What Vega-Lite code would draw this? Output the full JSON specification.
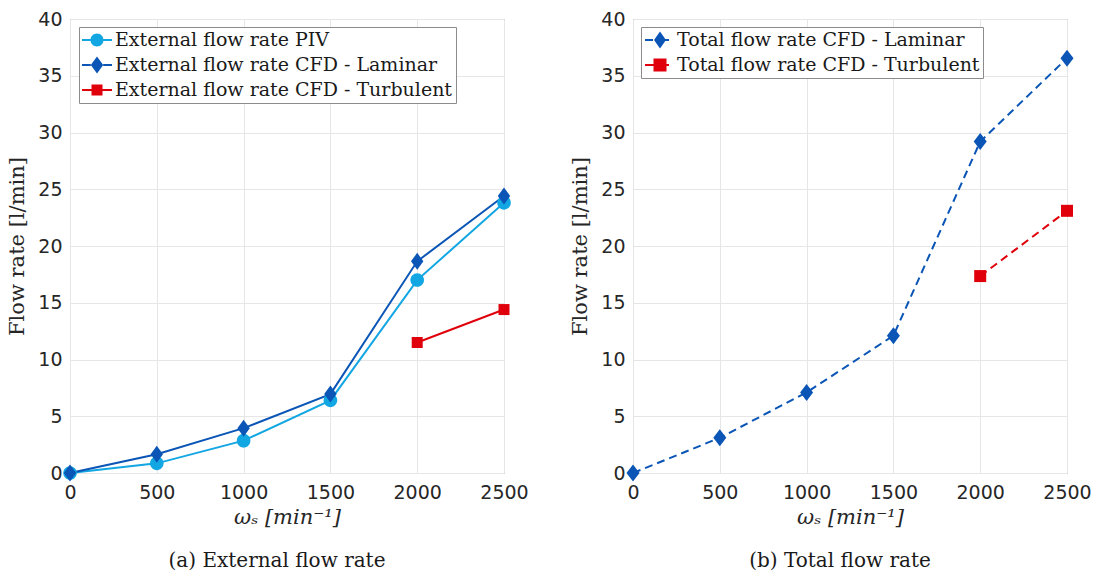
{
  "$schema": "https://vega.github.io/schema/vega-lite/v6.json",
  "background": "white",
  "padding": {"left": 6, "top": 9, "right": 5, "bottom": 0},
  "spacing": 40,
  "config": {
    "view": {"stroke": "#8a8a8a", "strokeWidth": 1},
    "axis": {
      "labelFont": "DejaVu Sans", "labelFontSize": 19, "labelColor": "#262626", "labelFlush": false,
      "titleFont": "DejaVu Serif", "titleFontSize": 21, "titleFontWeight": "normal", "titleColor": "#262626",
      "gridColor": "#e6e6e6", "gridWidth": 1, "domain": false, "ticks": false
    },
    "legend": {
      "labelFont": "DejaVu Serif", "labelFontSize": 19, "labelColor": "#1a1a1a", "labelLimit": 600,
      "fillColor": "white", "strokeColor": "#8c8c8c", "padding": 3, "rowPadding": 5,
      "symbolSize": 400, "symbolStrokeWidth": 0, "labelOffset": 13, "orient": "none", "title": null
    },
    "title": {"font": "DejaVu Serif", "fontSize": 20, "fontWeight": "normal", "color": "#1a1a1a"}
  },
  "data": {"values": [
    {"panel": "a", "series": "External flow rate PIV", "x": 0, "y": 0},
    {"panel": "a", "series": "External flow rate PIV", "x": 500, "y": 0.85},
    {"panel": "a", "series": "External flow rate PIV", "x": 1000, "y": 2.85},
    {"panel": "a", "series": "External flow rate PIV", "x": 1500, "y": 6.4},
    {"panel": "a", "series": "External flow rate PIV", "x": 2000, "y": 17.0},
    {"panel": "a", "series": "External flow rate PIV", "x": 2500, "y": 23.8},
    {"panel": "a", "series": "External flow rate CFD - Laminar", "x": 0, "y": 0},
    {"panel": "a", "series": "External flow rate CFD - Laminar", "x": 500, "y": 1.65},
    {"panel": "a", "series": "External flow rate CFD - Laminar", "x": 1000, "y": 3.95},
    {"panel": "a", "series": "External flow rate CFD - Laminar", "x": 1500, "y": 6.95},
    {"panel": "a", "series": "External flow rate CFD - Laminar", "x": 2000, "y": 18.65},
    {"panel": "a", "series": "External flow rate CFD - Laminar", "x": 2500, "y": 24.4},
    {"panel": "a", "series": "External flow rate CFD - Turbulent", "x": 2000, "y": 11.5},
    {"panel": "a", "series": "External flow rate CFD - Turbulent", "x": 2500, "y": 14.4},
    {"panel": "b", "series": "Total flow rate CFD - Laminar", "x": 0, "y": 0},
    {"panel": "b", "series": "Total flow rate CFD - Laminar", "x": 500, "y": 3.1},
    {"panel": "b", "series": "Total flow rate CFD - Laminar", "x": 1000, "y": 7.1},
    {"panel": "b", "series": "Total flow rate CFD - Laminar", "x": 1500, "y": 12.1},
    {"panel": "b", "series": "Total flow rate CFD - Laminar", "x": 2000, "y": 29.2},
    {"panel": "b", "series": "Total flow rate CFD - Laminar", "x": 2500, "y": 36.55},
    {"panel": "b", "series": "Total flow rate CFD - Turbulent", "x": 2000, "y": 17.35},
    {"panel": "b", "series": "Total flow rate CFD - Turbulent", "x": 2500, "y": 23.1}
  ]},
  "hconcat": [
    {
      "width": 434, "height": 454,
      "title": {"text": "(a) External flow rate", "orient": "bottom", "offset": 24, "dx": -10},
      "transform": [{"filter": "datum.panel == 'a'"}],
      "layer": [
        {
          "mark": {"type": "line", "strokeWidth": 2, "opacity": 1},
          "encoding": {
            "x": {"field": "x", "type": "quantitative", "scale": {"domain": [0, 2500], "nice": false, "zero": false},
                  "axis": {"values": [0, 500, 1000, 1500, 2000, 2500], "format": "d", "title": "ωₛ [min⁻¹]", "titleFontStyle": "italic", "labelPadding": 10, "titlePadding": 4}},
            "y": {"field": "y", "type": "quantitative", "scale": {"domain": [0, 40], "nice": false},
                  "axis": {"values": [0, 5, 10, 15, 20, 25, 30, 35, 40], "format": "d", "title": "Flow rate [l/min]", "labelPadding": 8, "titlePadding": 10}},
            "color": {"field": "series", "type": "nominal", "legend": null,
                      "scale": {"domain": ["External flow rate PIV", "External flow rate CFD - Laminar", "External flow rate CFD - Turbulent"], "range": ["#12a6e2", "#0a55b5", "#e0000b"]}}
          }
        },
        {
          "mark": {"type": "point", "filled": true, "opacity": 1, "size": 400, "strokeWidth": 0},
          "encoding": {
            "x": {"field": "x", "type": "quantitative"},
            "y": {"field": "y", "type": "quantitative"},
            "color": {"field": "series", "type": "nominal", "legend": null,
                      "scale": {"domain": ["External flow rate PIV", "External flow rate CFD - Laminar", "External flow rate CFD - Turbulent"], "range": ["#12a6e2", "#0a55b5", "#e0000b"]}},
            "shape": {"field": "series", "type": "nominal", "legend": null,
                      "scale": {"domain": ["External flow rate PIV", "External flow rate CFD - Laminar", "External flow rate CFD - Turbulent"],
                                "range": ["M-0.68,0A0.68,0.68 0 1,1 0.68,0A0.68,0.68 0 1,1 -0.68,0Z", "M0,-0.85L0.62,0L0,0.85L-0.62,0Z", "M-0.55,-0.55H0.55V0.55H-0.55Z"]}}
          }
        },
        {
          "transform": [{"filter": "false"}],
          "mark": {"type": "point", "filled": true, "opacity": 1, "size": 400, "strokeWidth": 0},
          "encoding": {
            "color": {"field": "series", "type": "nominal",
                      "legend": {"legendX": 9, "legendY": 8},
                      "scale": {"domain": ["External flow rate PIV", "External flow rate CFD - Laminar", "External flow rate CFD - Turbulent"], "range": ["#12a6e2", "#0a55b5", "#e0000b"]}},
            "shape": {"field": "series", "type": "nominal",
                      "legend": {"legendX": 9, "legendY": 8},
                      "scale": {"domain": ["External flow rate PIV", "External flow rate CFD - Laminar", "External flow rate CFD - Turbulent"],
                                "range": [
                                  "M-1,-0.1H-0.15V0.1H-1Z M1.15,-0.1H2V0.1H1.15Z M-0.15,0A0.65,0.65 0 1,1 1.15,0A0.65,0.65 0 1,1 -0.15,0Z",
                                  "M-1,-0.1H-0.12V0.1H-1Z M1.12,-0.1H2V0.1H1.12Z M0.5,-0.85L1.12,0L0.5,0.85L-0.12,0Z",
                                  "M-1,-0.1H-0.05V0.1H-1Z M1.05,-0.1H2V0.1H1.05Z M-0.05,-0.55H1.05V0.55H-0.05Z"]}}
          }
        }
      ],
      "resolve": {"scale": {"color": "independent", "shape": "independent"}}
    },
    {
      "width": 434, "height": 454,
      "title": {"text": "(b) Total flow rate", "orient": "bottom", "offset": 24, "dx": -10},
      "transform": [{"filter": "datum.panel == 'b'"}],
      "layer": [
        {
          "mark": {"type": "line", "strokeWidth": 2, "opacity": 1, "strokeDash": [8, 5]},
          "encoding": {
            "x": {"field": "x", "type": "quantitative", "scale": {"domain": [0, 2500], "nice": false, "zero": false},
                  "axis": {"values": [0, 500, 1000, 1500, 2000, 2500], "format": "d", "title": "ωₛ [min⁻¹]", "titleFontStyle": "italic", "labelPadding": 10, "titlePadding": 4}},
            "y": {"field": "y", "type": "quantitative", "scale": {"domain": [0, 40], "nice": false},
                  "axis": {"values": [0, 5, 10, 15, 20, 25, 30, 35, 40], "format": "d", "title": "Flow rate [l/min]", "labelPadding": 8, "titlePadding": 10}},
            "color": {"field": "series", "type": "nominal", "legend": null,
                      "scale": {"domain": ["Total flow rate CFD - Laminar", "Total flow rate CFD - Turbulent"], "range": ["#0a55b5", "#e0000b"]}}
          }
        },
        {
          "mark": {"type": "point", "filled": true, "opacity": 1, "size": 400, "strokeWidth": 0},
          "encoding": {
            "x": {"field": "x", "type": "quantitative"},
            "y": {"field": "y", "type": "quantitative"},
            "color": {"field": "series", "type": "nominal", "legend": null,
                      "scale": {"domain": ["Total flow rate CFD - Laminar", "Total flow rate CFD - Turbulent"], "range": ["#0a55b5", "#e0000b"]}},
            "shape": {"field": "series", "type": "nominal", "legend": null,
                      "scale": {"domain": ["Total flow rate CFD - Laminar", "Total flow rate CFD - Turbulent"],
                                "range": ["M0,-0.85L0.65,0L0,0.85L-0.65,0Z", "M-0.6,-0.6H0.6V0.6H-0.6Z"]}}
          }
        },
        {
          "transform": [{"filter": "false"}],
          "mark": {"type": "point", "filled": true, "opacity": 1, "size": 400, "strokeWidth": 0},
          "encoding": {
            "color": {"field": "series", "type": "nominal",
                      "legend": {"legendX": 8, "legendY": 8},
                      "scale": {"domain": ["Total flow rate CFD - Laminar", "Total flow rate CFD - Turbulent"], "range": ["#0a55b5", "#e0000b"]}},
            "shape": {"field": "series", "type": "nominal",
                      "legend": {"legendX": 8, "legendY": 8},
                      "scale": {"domain": ["Total flow rate CFD - Laminar", "Total flow rate CFD - Turbulent"],
                                "range": [
                                  "M-0.9,-0.1H-0.1V0.1H-0.9Z M1.15,-0.1H1.5V0.1H1.15Z M0.6,-0.85L1.2,0L0.6,0.85L0,0Z",
                                  "M-0.9,-0.1H-0.05V0.1H-0.9Z M1.25,-0.1H1.5V0.1H1.25Z M-0.05,-0.65H1.25V0.65H-0.05Z"]}}
          }
        }
      ],
      "resolve": {"scale": {"color": "independent", "shape": "independent"}}
    }
  ]
}
